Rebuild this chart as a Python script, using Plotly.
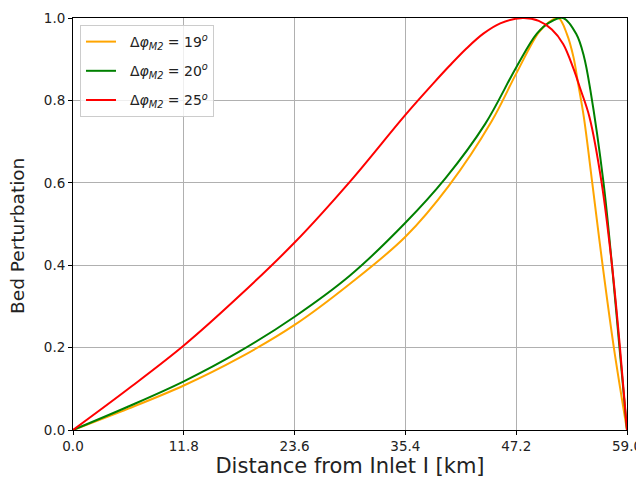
import plotly.graph_objects as go

x_tick_vals = [0.0, 11.8, 23.6, 35.4, 47.2, 59.0]
y_tick_vals = [0.0, 0.2, 0.4, 0.6, 0.8, 1.0]

# Δφ = 19°
x19 = [0, 5.9, 11.8, 17.7, 23.6, 29.5, 35.4, 40.0, 44.6, 47.2, 49.6, 50.7, 51.7, 52.6, 53.3, 53.8, 54.4, 55.3, 56.4, 57.6, 59.0]
y19 = [0, 0.052, 0.108, 0.175, 0.255, 0.355, 0.469, 0.592, 0.75, 0.865, 0.965, 0.99, 1.0, 0.961, 0.905, 0.84, 0.76, 0.6, 0.4, 0.2, 0.0]

# Δφ = 20°
x20 = [0, 5.9, 11.8, 17.7, 23.6, 29.5, 35.4, 39.7, 43.9, 47.2, 49.4, 50.8, 52.2, 53.6, 54.4, 55.1, 56.5, 57.4, 58.2, 59.0]
y20 = [0, 0.057, 0.118, 0.19, 0.275, 0.375, 0.503, 0.612, 0.743, 0.88, 0.962, 0.99, 1.0, 0.961, 0.908, 0.825, 0.6, 0.4, 0.2, 0.0]

# Δφ = 25°
x25 = [0, 5.9, 11.8, 17.7, 23.6, 29.5, 35.4, 38.4, 40.1, 41.9, 43.7, 45.5, 47.9, 49.6, 51.0, 52.2, 53.3, 54.0, 55.0, 56.3, 57.4, 58.25, 59.0]
y25 = [0, 0.1, 0.205, 0.325, 0.455, 0.603, 0.765, 0.842, 0.884, 0.926, 0.962, 0.987, 1.0, 0.993, 0.972, 0.937, 0.877, 0.83, 0.76, 0.6, 0.4, 0.2, 0.0]

series = [
    (x19, y19, "#FFA500", "19"),
    (x20, y20, "#008000", "20"),
    (x25, y25, "#FF0000", "25"),
]

fig = go.Figure()
for xs, ys, col, ang in series:
    fig.add_trace(go.Scatter(
        x=xs, y=ys, mode="lines",
        line=dict(color=col, width=2, shape="spline", smoothing=1.0),
        name=f"\u00a0\u00a0Δ<i>φ</i><sub><i>M2</i></sub> = {ang}<sup><i>o</i></sup>",
        legendgroup=ang,
    ))

axis_common = dict(
    showline=True, linecolor="black", linewidth=1, mirror=True,
    ticks="outside", ticklen=4, tickcolor="black",
    showgrid=True, gridcolor="#b0b0b0", gridwidth=1,
    zeroline=False, automargin=False,
    tickfont=dict(family="DejaVu Sans", size=13.5, color="#222"),
)

fig.update_xaxes(range=[0, 59], tickvals=x_tick_vals, tickformat=".1f",
                 title=dict(text="Distance from Inlet I [km]", font=dict(family="DejaVu Sans", size=21, color="#222"), standoff=4),
                 **axis_common)
fig.update_yaxes(range=[0, 1], tickvals=y_tick_vals, tickformat=".1f",
                 **axis_common)

fig.add_annotation(text="Bed Perturbation", textangle=-90,
                   xref="paper", yref="paper", x=-0.0993, y=0.471,
                   xanchor="center", yanchor="middle", showarrow=False,
                   font=dict(family="DejaVu Sans", size=18.5, color="#222"))

fig.update_layout(
    width=636, height=478,
    margin=dict(l=65, r=17, t=10, b=56, autoexpand=False),
    plot_bgcolor="white", paper_bgcolor="white",
    showlegend=True,
    legend=dict(x=0.0126, y=0.983, xanchor="left", yanchor="top",
                bgcolor="rgba(255,255,255,0.8)", bordercolor="#cccccc", borderwidth=1,
                font=dict(family="DejaVu Sans", size=14, color="#222"),
                tracegroupgap=8, itemwidth=30),
)

fig.write_html("out.html", post_script="document.documentElement.style.overflow='hidden';document.body.style.overflow='hidden';")
